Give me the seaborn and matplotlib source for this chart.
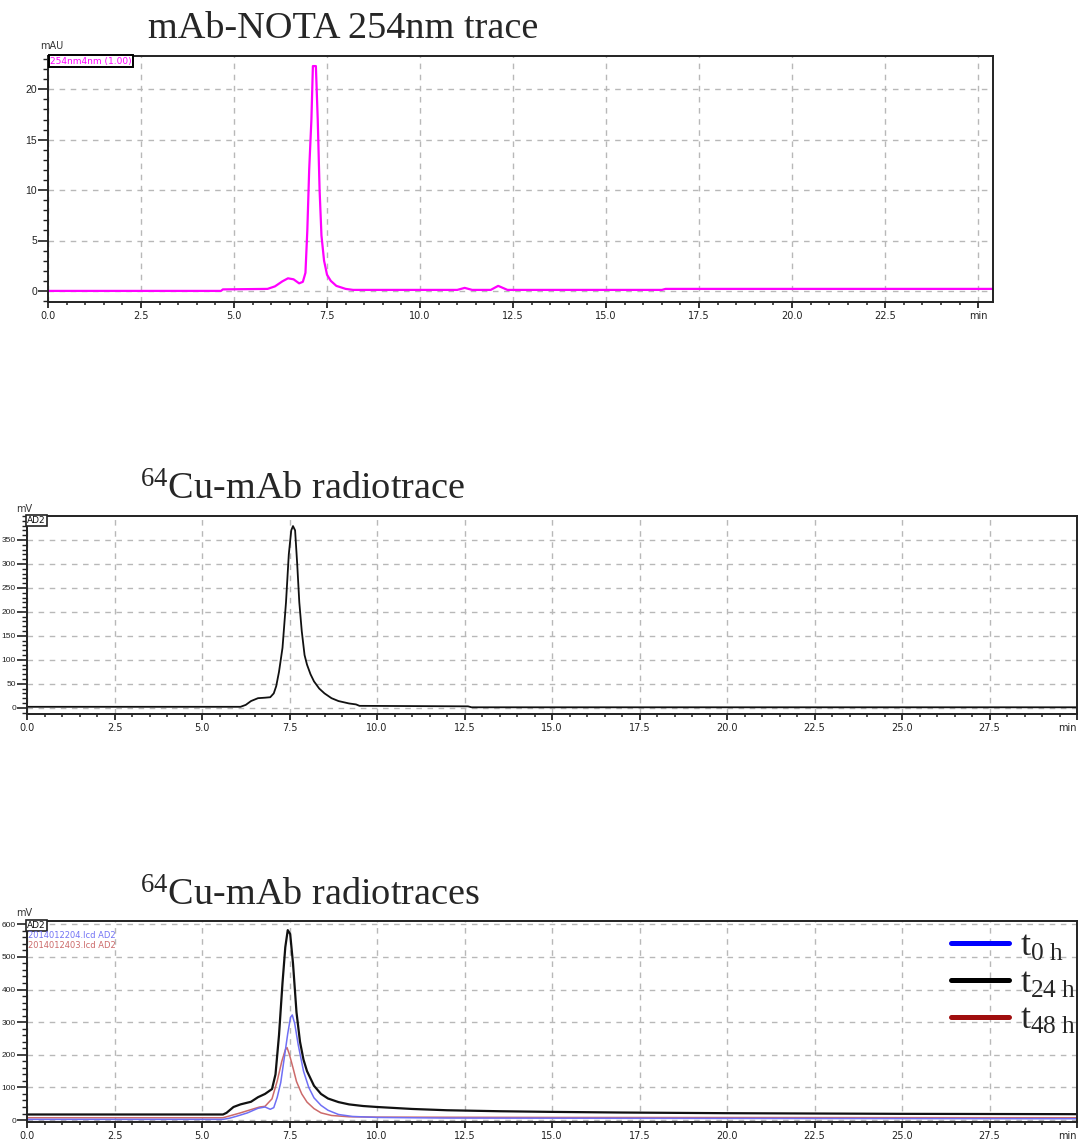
import numpy as np
import pandas as pd
import matplotlib
matplotlib.use("Agg")
import matplotlib.pyplot as plt
from matplotlib.lines import Line2D
from matplotlib.ticker import MultipleLocator, FixedLocator
import seaborn as sns

# ---- mAb-NOTA UV trace at 254 nm (min, mAU) ----
uv_time = [0.0, 4.65, 4.7, 5.9, 6.1, 6.3, 6.45, 6.6, 6.75, 6.85, 6.92, 6.97, 7.02,
           7.08, 7.12, 7.2, 7.25, 7.3, 7.35, 7.42, 7.5, 7.6, 7.75, 8.0, 8.2,
           11.0, 11.2, 11.4, 11.9, 12.1, 12.35, 16.5, 16.6, 25.4]
uv_signal = [0.0, 0.0, 0.15, 0.2, 0.45, 0.95, 1.25, 1.15, 0.75, 0.9, 1.8, 6.0, 12.0,
             17.0, 22.3, 22.3, 17.0, 10.0, 5.5, 3.0, 1.6, 1.0, 0.5, 0.2, 0.1,
             0.1, 0.3, 0.1, 0.1, 0.5, 0.1, 0.1, 0.2, 0.2]

# ---- 64Cu-mAb radiotrace (min, mV) ----
rad_time = [0.0, 6.1, 6.25, 6.4, 6.6, 6.8, 6.95, 7.05, 7.12, 7.2, 7.3, 7.4, 7.48,
            7.55, 7.6, 7.66, 7.72, 7.78, 7.85, 7.93, 8.0, 8.1, 8.2, 8.35, 8.5,
            8.7, 8.9, 9.2, 9.4, 9.5, 12.6, 12.7, 30.0]
rad_signal = [2, 2, 6, 14, 20, 21, 22, 30, 45, 75, 125, 220, 320,
              370, 379, 370, 300, 220, 160, 110, 90, 70, 55, 40, 30,
              20, 14, 9, 7, 4, 3, 1, 1]

# ---- 64Cu-mAb radiotraces over time (min, mV) ----
t0_time = [0.0, 5.6, 5.8, 6.0, 6.3, 6.6, 6.8, 6.95, 7.05, 7.15, 7.25, 7.35, 7.45,
           7.53, 7.58, 7.65, 7.75, 7.9, 8.05, 8.2, 8.4, 8.6, 8.9, 9.3, 10.0,
           12.0, 20.0, 30.0]
t0_signal = [2, 2, 6, 12, 22, 36, 40, 33, 38, 70, 115, 190, 265,
             315, 322, 295, 230, 150, 100, 68, 45, 30, 17, 11, 8,
             6, 5, 4]

t24_time = [0.0, 5.6, 5.7, 5.9, 6.1, 6.4, 6.6, 6.8, 7.0, 7.1, 7.2, 7.3, 7.38,
            7.45, 7.52, 7.6, 7.7, 7.8, 7.9, 8.0, 8.2, 8.4, 8.6, 8.9, 9.2,
            9.6, 10.0, 11.0, 12.0, 13.5, 15.0, 17.0, 20.0, 25.0, 30.0]
t24_signal = [17, 17, 22, 40, 48, 56, 70, 80, 95, 140, 260, 420, 530,
              582, 570, 480, 330, 240, 185, 150, 105, 80, 66, 55, 48,
              43, 40, 34, 30, 27, 25, 23, 21, 19, 18]

t48_time = [0.0, 5.6, 5.8, 6.1, 6.4, 6.65, 6.8, 7.0, 7.15, 7.28, 7.38, 7.43, 7.5,
            7.6, 7.7, 7.85, 8.0, 8.2, 8.4, 8.7, 9.2, 10.0, 15.0, 30.0]
t48_signal = [7, 7, 13, 22, 32, 40, 42, 65, 120, 180, 215, 222, 200,
              160, 118, 80, 55, 35, 22, 14, 10, 9, 8, 7]

legend_labels = [r"$\mathrm{t}_{\mathrm{0\ h}}$", r"$\mathrm{t}_{\mathrm{24\ h}}$",
                 r"$\mathrm{t}_{\mathrm{48\ h}}$"]
legend_colors = ["#0000ff", "#000000", "#a00e0e"]

titles = ["mAb-NOTA 254nm trace", r"$^{64}$Cu-mAb radiotrace", r"$^{64}$Cu-mAb radiotraces"]

x_labels_25 = ["0.0", "2.5", "5.0", "7.5", "10.0", "12.5", "15.0", "17.5", "20.0", "22.5"]
x_labels_30 = x_labels_25 + ["25.0", "27.5"]

sns.set_style("white")
plt.rcParams["font.family"] = ["DejaVu Sans"]
plt.rcParams["mathtext.fontset"] = "custom"
plt.rcParams["mathtext.rm"] = "Liberation Serif"
plt.rcParams["mathtext.it"] = "Liberation Serif:italic"

W, H = 1078, 1141
fig = plt.figure(figsize=(W / 100, H / 100), dpi=100)


def px_axes(l, t, r, b):
    return fig.add_axes([l / W, 1 - b / H, (r - l) / W, (b - t) / H])


def style_axes(ax, xmax, xmaj_labels, ymaj, ymin_step, ylim, min_pos, ysize, ylen):
    ax.set_xlim(0, xmax)
    ax.set_ylim(*ylim)
    xt = list(np.arange(0, min_pos, 2.5)) + [min_pos]
    ax.xaxis.set_major_locator(FixedLocator(xt))
    ax.set_xticklabels(xmaj_labels + ["min"])
    ax.xaxis.set_minor_locator(MultipleLocator(0.5))
    ax.yaxis.set_major_locator(FixedLocator(ymaj))
    ax.yaxis.set_minor_locator(MultipleLocator(ymin_step))
    ax.tick_params(axis="x", which="major", direction="out", length=4.5, width=1.3,
                   labelsize=7, colors="#222222", pad=2, bottom=True)
    ax.tick_params(axis="x", which="minor", direction="out", length=2.5, width=1.1,
                   colors="#222222", bottom=True)
    ax.tick_params(axis="y", which="major", direction="out", length=ylen, width=1.2,
                   labelsize=ysize, colors="#222222", pad=1, left=True)
    ax.tick_params(axis="y", which="minor", direction="out", length=3.5, width=1.0,
                   colors="#222222", left=True)
    for lab in ax.get_yticklabels():
        lab.set_family("Liberation Sans")
    ax.grid(True, which="major", color="#b8b8b8", linestyle=(0, (4, 4)), linewidth=1.0)
    for s in ax.spines.values():
        s.set_visible(True)
        s.set_color("#222222")
        s.set_linewidth(1.4)
    ax.set_xlabel("")
    ax.set_ylabel("")


serif = "Liberation Serif"

# Panel 1: UV trace
ax1 = px_axes(48, 56, 993, 302)
sns.lineplot(x=uv_time, y=uv_signal, ax=ax1, color="#ff00ff", linewidth=1.6,
             sort=False, estimator=None)
style_axes(ax1, 25.4, x_labels_25, [0, 5, 10, 15, 20], 1, (-1.1, 23.3), 25.0, 7.5, 7)
ax1.text(0.002, 0.997, "254nm4nm (1.00)", transform=ax1.transAxes, ha="left", va="top",
         color="#ff00ff", fontsize=6.5,
         bbox=dict(boxstyle="square,pad=0.15", fc="white", ec="black", lw=1.4))
fig.text(52 / W, 1 - 46 / H, "mAU", ha="center", va="center", fontsize=7, color="#333333")
fig.text(148 / W, 1 - 38 / H, titles[0], ha="left", va="baseline", fontsize=27.5,
         family=serif)

# Panel 2: radiotrace
ax2 = px_axes(27, 516, 1077, 714)
sns.lineplot(x=rad_time, y=rad_signal, ax=ax2, color="#111111", linewidth=1.3,
             sort=False, estimator=None)
style_axes(ax2, 30.0, x_labels_30, [0, 50, 100, 150, 200, 250, 300, 350], 10,
           (-13, 400), 30.0, 6, 7)
ax2.get_xticklabels()[-1].set_ha("right")
ax2.text(0.0, 1.0, "AD2", transform=ax2.transAxes, ha="left", va="top",
         color="#111111", fontsize=6.5,
         bbox=dict(boxstyle="square,pad=0.15", fc="white", ec="#222222", lw=1.2))
fig.text(24 / W, 1 - 509 / H, "mV", ha="center", va="center", fontsize=7, color="#333333")
fig.text(140 / W, 1 - 500 / H, titles[1], ha="left", va="baseline", fontsize=27.5,
         family=serif)

# Panel 3: radiotraces at 0, 24 and 48 h
ax3 = px_axes(27, 921, 1077, 1122)
traces = pd.concat([
    pd.DataFrame({"time": t48_time, "signal": t48_signal, "run": "48 h"}),
    pd.DataFrame({"time": t0_time, "signal": t0_signal, "run": "0 h"}),
    pd.DataFrame({"time": t24_time, "signal": t24_signal, "run": "24 h"}),
], ignore_index=True)
sns.lineplot(data=traces, x="time", y="signal", hue="run", ax=ax3,
             palette={"48 h": "#cc6a6a", "0 h": "#6f6ff5", "24 h": "#111111"},
             linewidth=1.3, sort=False, estimator=None, legend=False)
for ln, lw in zip(ax3.get_lines(), [1.1, 1.1, 1.6]):
    ln.set_linewidth(lw)
style_axes(ax3, 30.0, x_labels_30, [0, 100, 200, 300, 400, 500, 600], 20,
           (-6, 610), 30.0, 6, 7)
ax3.get_xticklabels()[-1].set_ha("right")
ax3.text(0.0, 1.0, "AD2", transform=ax3.transAxes, ha="left", va="top",
         color="#111111", fontsize=6.5,
         bbox=dict(boxstyle="square,pad=0.15", fc="white", ec="#222222", lw=1.2))
ax3.text(0.001, 0.95, "2014012204.lcd AD2", transform=ax3.transAxes, ha="left", va="top",
         color="#7373f5", fontsize=6)
ax3.text(0.001, 0.90, "2014012403.lcd AD2", transform=ax3.transAxes, ha="left", va="top",
         color="#cc6a6a", fontsize=6)
handles = [Line2D([0], [0], color=c, linewidth=3.6) for c in legend_colors]
ax3.legend(handles, legend_labels, loc="upper right", bbox_to_anchor=(1.016, 1.05),
           frameon=False, fontsize=26, handlelength=1.6, handletextpad=0.3,
           labelspacing=0.07, borderaxespad=0.1)
fig.text(24 / W, 1 - 913 / H, "mV", ha="center", va="center", fontsize=7, color="#333333")
fig.text(140 / W, 1 - 905 / H, titles[2], ha="left", va="baseline", fontsize=27.5,
         family=serif)

fig.savefig("out.png", dpi=100, facecolor="white")
